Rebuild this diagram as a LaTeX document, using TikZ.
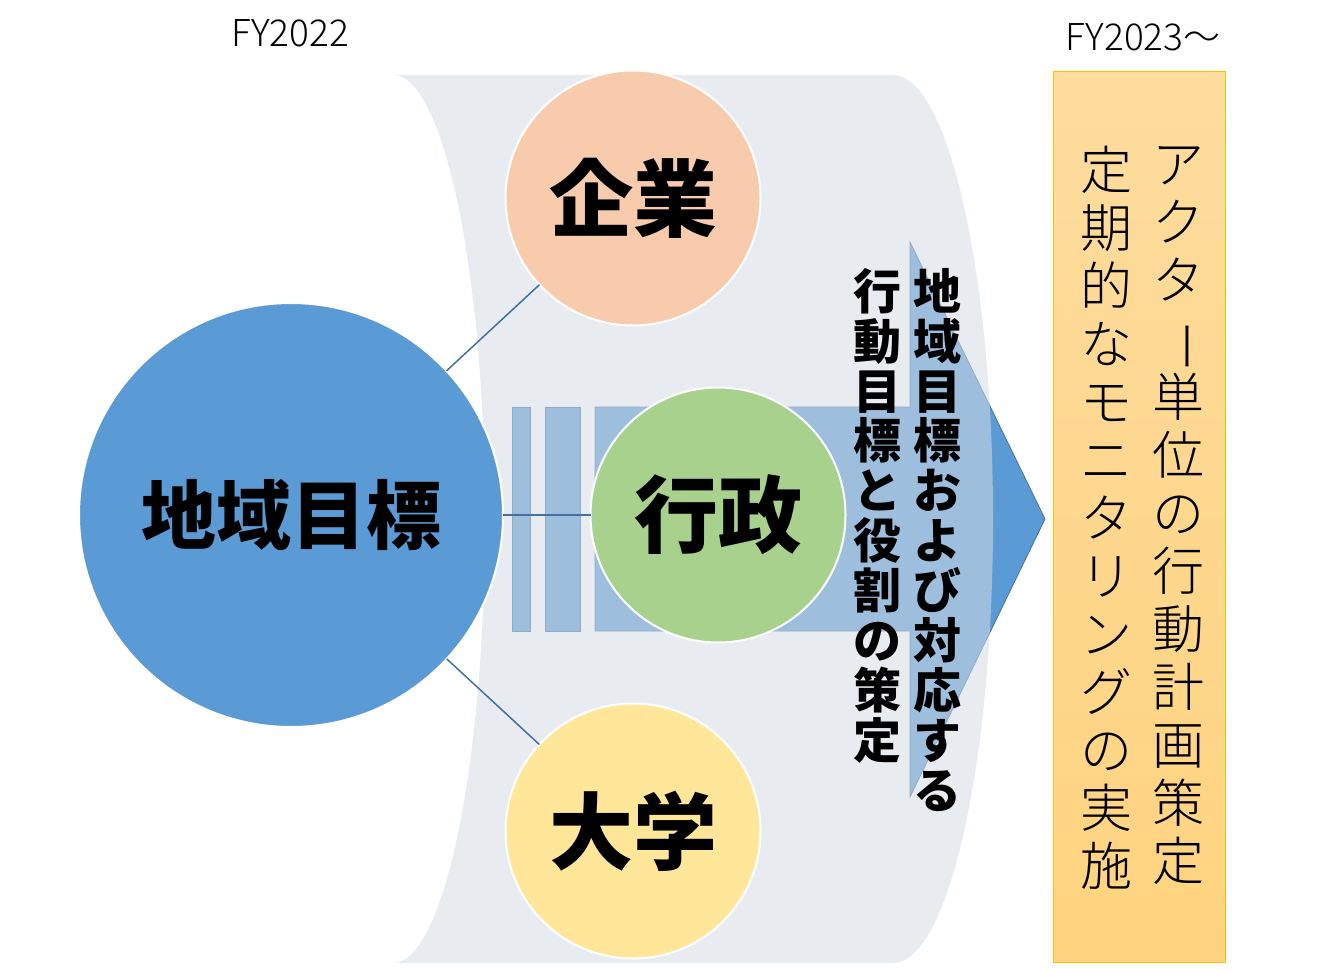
\documentclass[tikz,border=0pt]{standalone}
\usepackage{fontspec}
\setmainfont{Noto Sans CJK JP}
\newfontfamily\lightjp{Noto Sans CJK JP Light}
\definecolor{bigblue}{HTML}{5B9BD5}
\definecolor{linkblue}{HTML}{41719C}
\definecolor{bandgrey}{HTML}{D6DCE5}
\definecolor{peach}{HTML}{F8CBAD}
\definecolor{leaf}{HTML}{A9D18E}
\definecolor{sand}{HTML}{FFE699}
\definecolor{boxtop}{HTML}{FDDC9E}
\definecolor{boxbot}{HTML}{FFD37F}
\definecolor{boxline}{HTML}{FFC000}
\newcommand{\vbar}{\rotatebox[origin=c]{-90}{ー}}
\begin{document}
\begin{tikzpicture}[x=1pt,y=-1pt,
  actor/.style={circle,draw=white,line width=2pt,inner sep=0pt,outer sep=0pt,
    minimum size=255pt,font=\bfseries\fontsize{84}{90}\selectfont},
  link/.style={draw=linkblue,line width=1.5pt},
  arrowshape/.style={fill=bigblue,draw=linkblue,line width=0.8pt},
  vcolA/.style={anchor=north,align=center,inner sep=0pt,font=\bfseries\fontsize{48}{49.9}\selectfont},
  vcolB/.style={anchor=north,align=center,inner sep=0pt,font=\lightjp\fontsize{52}{58}\selectfont},
  yearlabel/.style={inner sep=0pt,font=\lightjp\fontsize{37}{40}\selectfont}]
\useasboundingbox (0,0) rectangle (1333,971);
% striped block arrow
\path[arrowshape] (512,407) rectangle (530,631);
\path[arrowshape] (545,407) rectangle (580,631);
\path[arrowshape] (595,407) -- (910,407) -- (910,242) -- (1045,519) -- (910,797) -- (910,631) -- (595,631) -- cycle;
% grey band over it
\fill[bandgrey,fill opacity=0.55] (393,75) -- (893,75)
  arc[start angle=-90,end angle=90,x radius=100,y radius=444]
  -- (393,963)
  arc[start angle=90,end angle=-90,x radius=92,y radius=444] -- cycle;
% circles
\node[actor,fill=bigblue,minimum size=424pt,font=\bfseries\fontsize{75}{80}\selectfont] (goal) at (291,515) {地域目標};
\node[actor,fill=peach] (kigyo) at (633,198) {企業};
\node[actor,fill=leaf] (gyosei) at (718,515) {行政};
\node[actor,fill=sand] (daigaku) at (633,831) {大学};
\draw[link] (goal) -- (kigyo);
\draw[link] (goal) -- (gyosei);
\draw[link] (goal) -- (daigaku);
% arrow texts
\node[vcolA] (txtA) at (937,268) {地\\域\\目\\標\\お\\よ\\び\\対\\応\\す\\る};
\node[vcolA] (txtB) at (877,268) {行\\動\\目\\標\\と\\役\\割\\の\\策\\定};
% right box
\node[rectangle,draw=boxline,line width=1pt,top color=boxtop,bottom color=boxbot,
  minimum width=172pt,minimum height=890pt,inner sep=0pt] (box) at (1139,517) {};
\node[vcolB] (txtC) at (1178,146) {ア\\ク\\タ\\\vbar\\単\\位\\の\\行\\動\\計\\画\\策\\定};
\node[vcolB] (txtD) at (1106,146) {定\\期\\的\\な\\モ\\ニ\\タ\\リ\\ン\\グ\\の\\実\\施};
% years
\node[yearlabel] (fy22) at (290,33) {FY2022};
\node[yearlabel] (fy23) at (1143,37) {FY2023〜};
\end{tikzpicture}
\end{document}
